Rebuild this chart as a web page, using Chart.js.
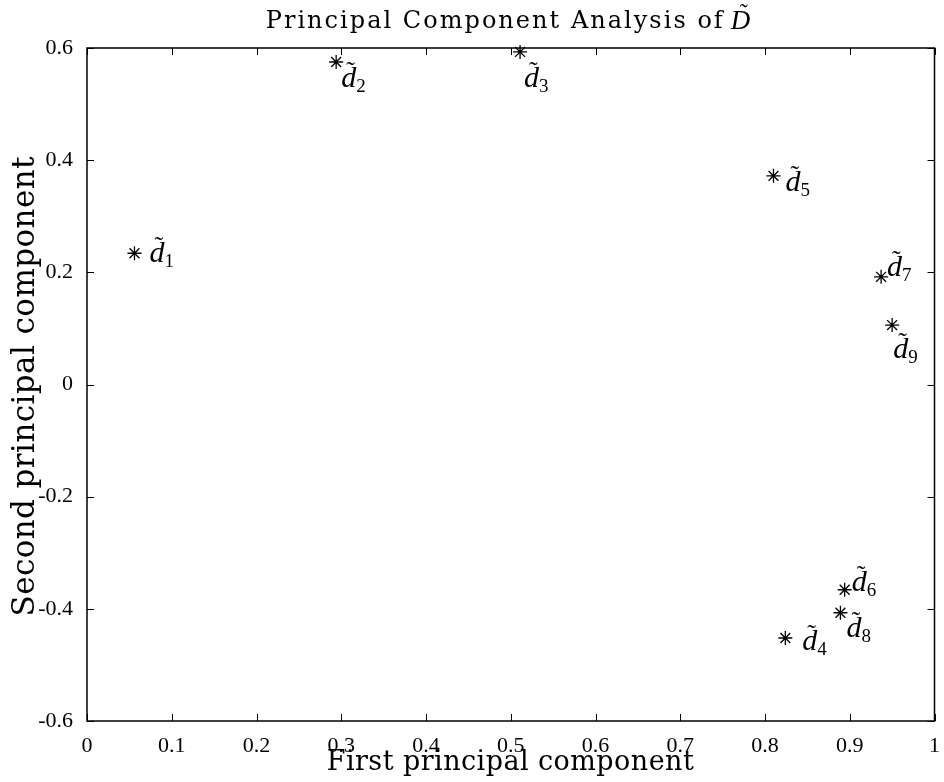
<!DOCTYPE html>
<html>
<head>
<meta charset="utf-8">
<script src="https://cdn.jsdelivr.net/npm/chart.js@4/dist/chart.umd.min.js"></script>
<style>
  html, body { margin: 0; padding: 0; background: #fff; }
</style>
</head>
<body>
<canvas id="pcaChart" width="944" height="782"></canvas>
<script>
// point names (subscripts of d~) and the two principal components
const pointNames = ['1', '2', '3', '4', '5', '6', '7', '8', '9'];
const firstPC = [0.056, 0.294, 0.511, 0.824, 0.810, 0.894, 0.937, 0.889, 0.950];
const secondPC = [0.234, 0.575, 0.593, -0.452, 0.372, -0.366, 0.192, -0.407, 0.106];

// axis ticks
const xTicks = [0, 0.1, 0.2, 0.3, 0.4, 0.5, 0.6, 0.7, 0.8, 0.9, 1];
const xTickLabels = ['0', '0.1', '0.2', '0.3', '0.4', '0.5', '0.6', '0.7', '0.8', '0.9', '1'];
const yTicks = [-0.6, -0.4, -0.2, 0, 0.2, 0.4, 0.6];
const yTickLabels = ['-0.6', '-0.4', '-0.2', '0', '0.2', '0.4', '0.6'];

const titleText = 'Principal Component Analysis of';
const xTitle = 'First principal component';
const yTitle = 'Second principal component';

// pixel offset of each label (left of d, middle of d) from its marker
const labelOffsets = [[15, -1], [5, 15], [4, 25], [17, 2], [12, 5], [7, -9], [6, -11], [6, 14], [1, 23]];

const SERIF = "'Liberation Serif', 'Times New Roman', serif";
const CMLIKE = "'DejaVu Serif', serif";

// draw text stretched with letter spacing to a given width
function spacedText(ctx, text, x, y, width) {
  ctx.letterSpacing = '0px';
  const w0 = ctx.measureText(text).width;
  const ls = (width - w0) / (text.length - 1);
  ctx.letterSpacing = ls + 'px';
  ctx.fillText(text, x, y);
  ctx.letterSpacing = '0px';
}

const decorPlugin = {
  id: 'pcaDecor',
  afterDraw(chart) {
    const { ctx, chartArea: a, scales: { x, y } } = chart;
    ctx.save();
    ctx.strokeStyle = '#000';
    ctx.fillStyle = '#000';

    // box
    ctx.lineWidth = 1.5;
    ctx.strokeRect(a.left, a.top, a.right - a.left, a.bottom - a.top);

    // inward tick marks on all four sides
    ctx.lineWidth = 1;
    ctx.beginPath();
    x.ticks.forEach(t => {
      const px = Math.round(x.getPixelForValue(t.value)) + 0.5;
      ctx.moveTo(px, a.bottom); ctx.lineTo(px, a.bottom - 7);
      ctx.moveTo(px, a.top); ctx.lineTo(px, a.top + 7);
    });
    y.ticks.forEach(t => {
      const py = Math.round(y.getPixelForValue(t.value)) + 0.5;
      ctx.moveTo(a.left, py); ctx.lineTo(a.left + 7, py);
      ctx.moveTo(a.right, py); ctx.lineTo(a.right - 7, py);
    });
    ctx.stroke();

    // point labels: d~ with subscript
    const meta = chart.getDatasetMeta(0);
    ctx.textAlign = 'left';
    ctx.textBaseline = 'alphabetic';
    meta.data.forEach((pt, i) => {
      const [dx, dy] = labelOffsets[i];
      const lx = pt.x + dx;
      const base = pt.y + dy + 10;
      ctx.font = 'italic 30px ' + SERIF;
      ctx.fillText('d', lx, base);
      const dw = ctx.measureText('d').width;
      ctx.font = '26px ' + SERIF;
      ctx.fillText('\u02DC', lx + 5, base - 8);
      ctx.font = '19px ' + SERIF;
      ctx.fillText(pointNames[i], lx + dw, base + 5);
    });

    // title
    const cx = (a.left + a.right) / 2;
    ctx.font = '24px ' + CMLIKE;
    ctx.textAlign = 'left';
    spacedText(ctx, titleText, cx - 245, 28, 457);
    ctx.font = 'italic 27px ' + SERIF;
    ctx.fillText('D', cx + 220, 29);
    ctx.font = '24px ' + SERIF;
    ctx.fillText('\u02DC', cx + 229, 20);

    // x axis title
    ctx.font = '27px ' + CMLIKE;
    spacedText(ctx, xTitle, cx - 184, 770, 367);

    // y axis title (rotated)
    const cy = (a.top + a.bottom) / 2;
    ctx.translate(34, cy);
    ctx.rotate(-Math.PI / 2);
    ctx.font = '31px ' + CMLIKE;
    spacedText(ctx, yTitle, -232, 0, 460);
    ctx.restore();
  }
};

new Chart(document.getElementById('pcaChart'), {
  type: 'scatter',
  data: {
    datasets: [{
      data: firstPC.map((v, i) => ({ x: v, y: secondPC[i] })),
      pointStyle: 'star',
      radius: 7,
      borderColor: '#000',
      backgroundColor: '#000',
      borderWidth: 1.3,
      clip: false
    }]
  },
  options: {
    responsive: false,
    animation: false,
    layout: { padding: { top: 48, right: 4, left: 0, bottom: 0 } },
    plugins: {
      legend: { display: false },
      tooltip: { enabled: false },
      title: { display: false }
    },
    scales: {
      x: {
        type: 'linear',
        min: 0,
        max: 1,
        afterBuildTicks: s => { s.ticks = xTicks.map(v => ({ value: v })); },
        afterFit: s => { s.height = 61; },
        grid: { display: false },
        border: { display: false },
        ticks: {
          autoSkip: false,
          maxRotation: 0,
          padding: 4,
          color: '#000',
          font: { family: SERIF, size: 22 },
          callback: (v, i) => xTickLabels[i]
        }
      },
      y: {
        type: 'linear',
        min: -0.6,
        max: 0.6,
        afterBuildTicks: s => { s.ticks = yTicks.map(v => ({ value: v })); },
        afterFit: s => { s.width = 87; },
        grid: { display: false },
        border: { display: false },
        ticks: {
          autoSkip: false,
          padding: 6,
          color: '#000',
          font: { family: SERIF, size: 22 },
          callback: (v, i) => yTickLabels[i]
        }
      }
    }
  },
  plugins: [decorPlugin]
});
</script>
</body>
</html>
